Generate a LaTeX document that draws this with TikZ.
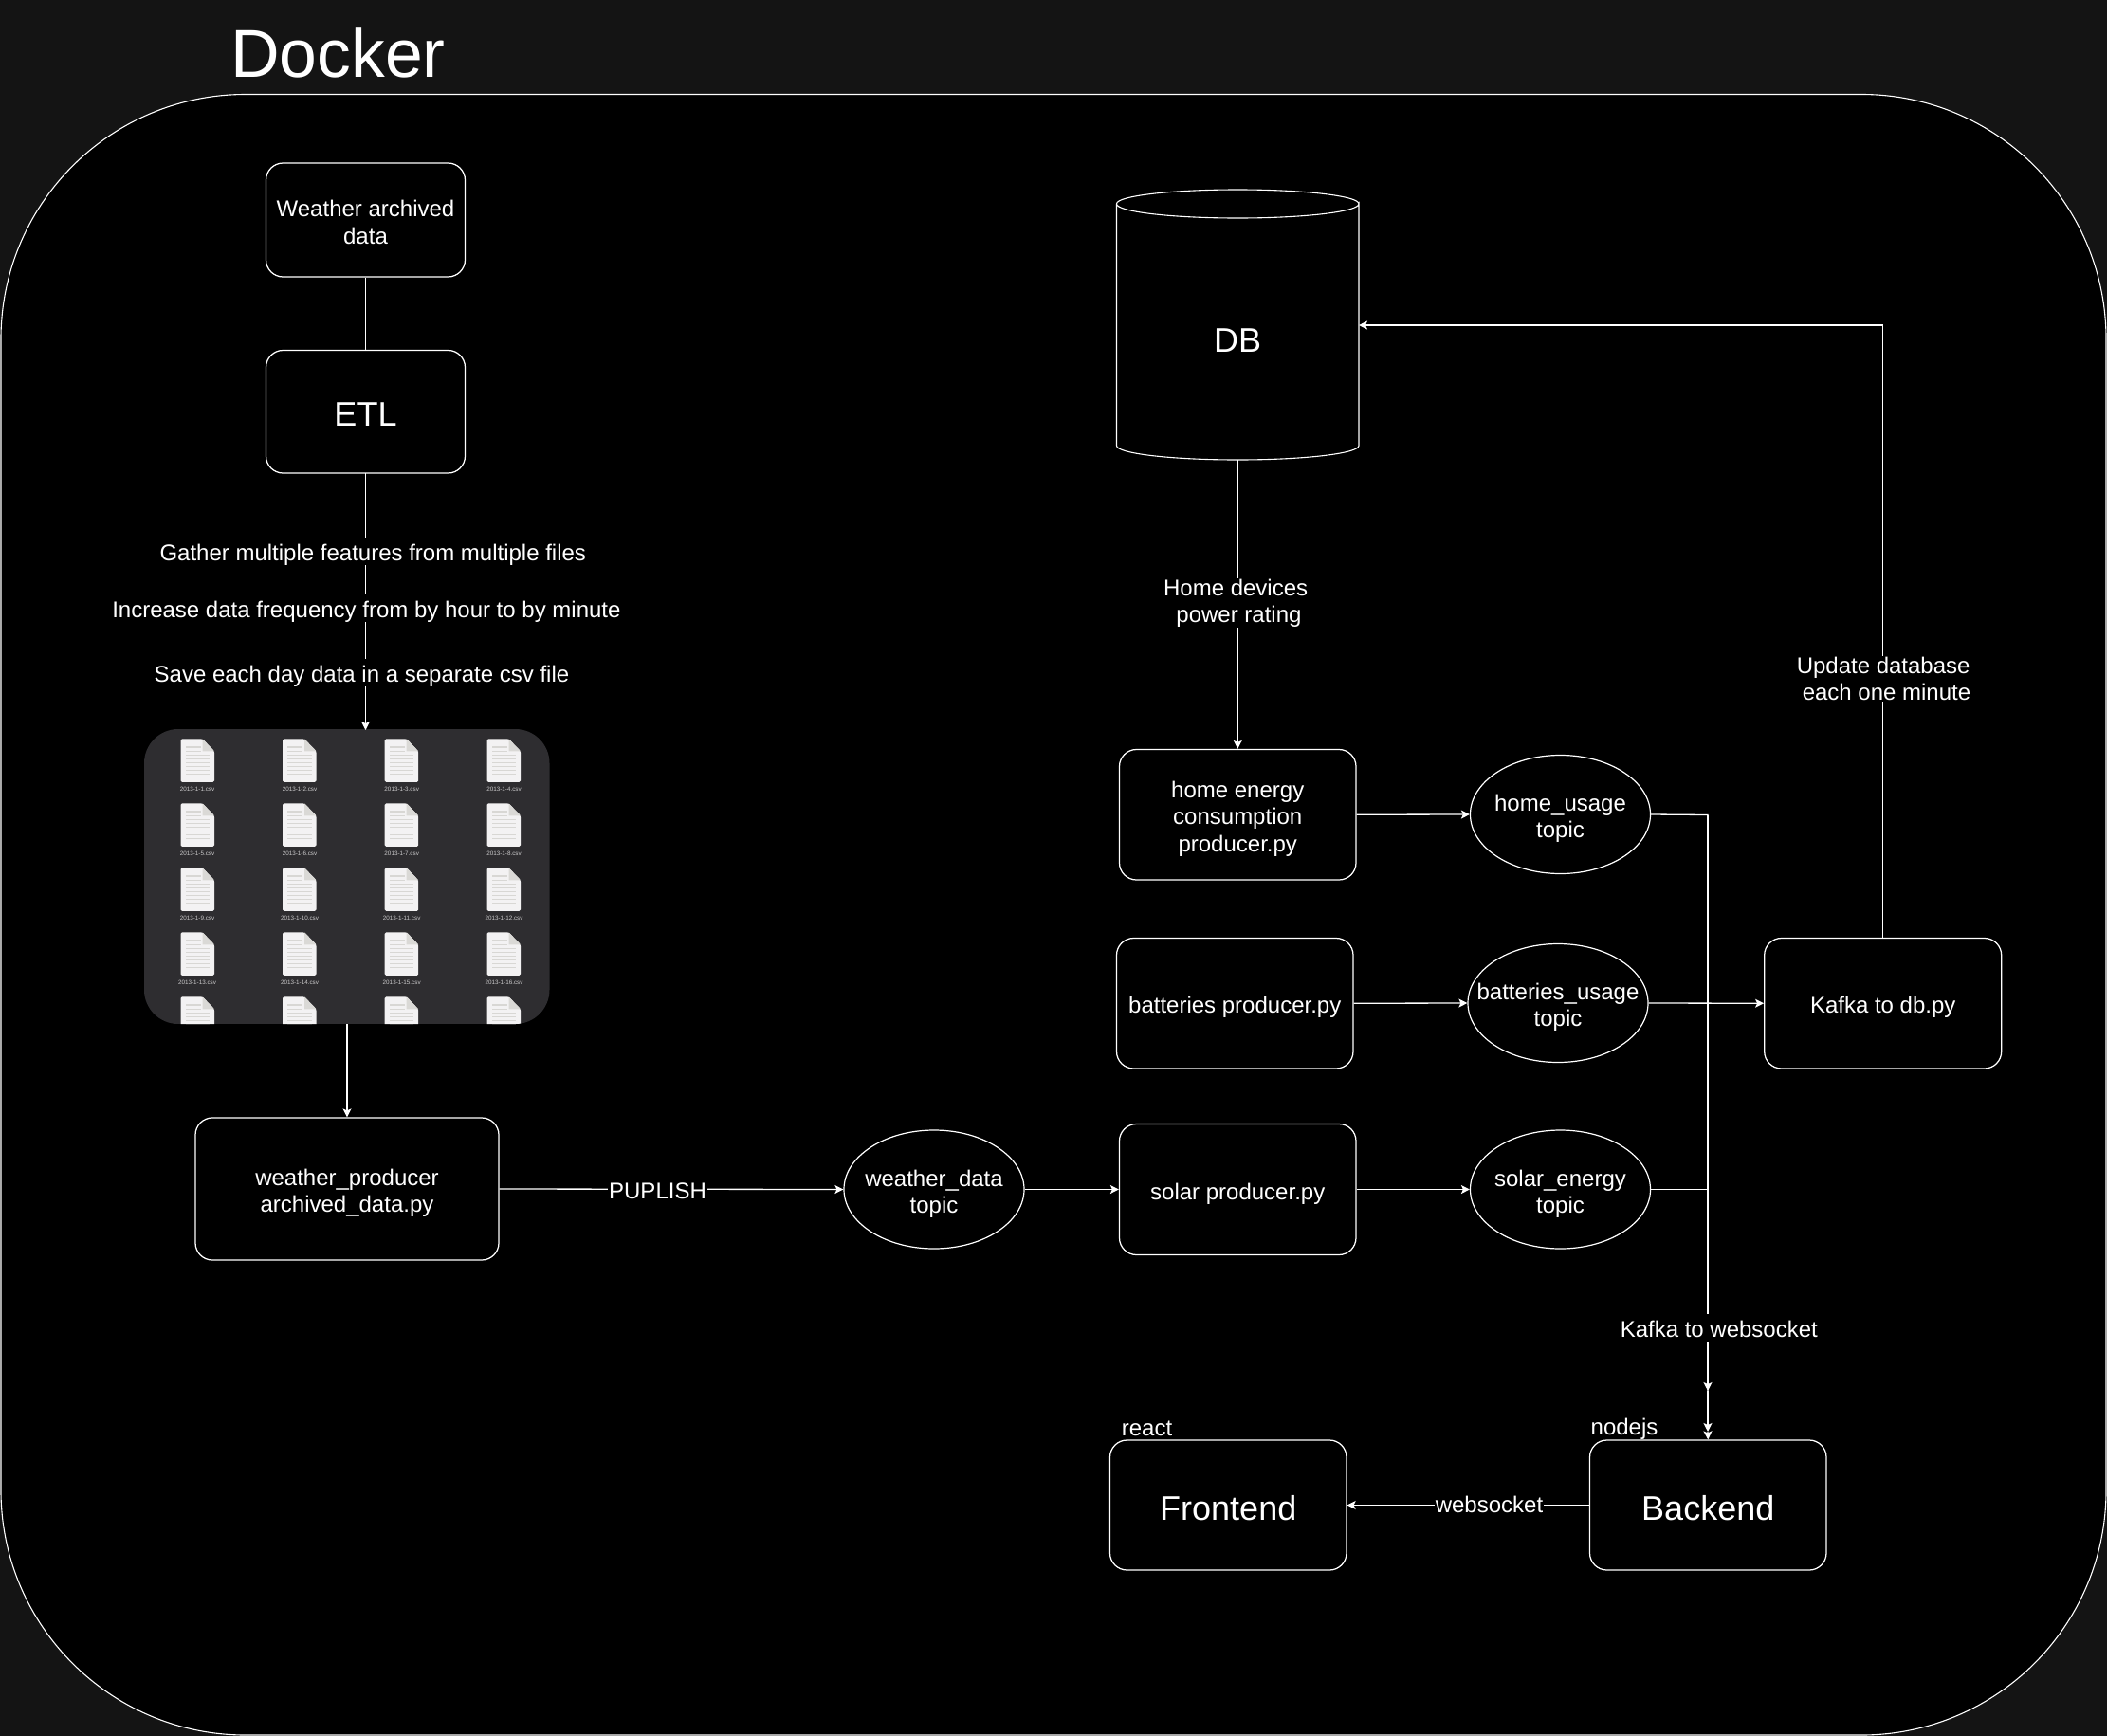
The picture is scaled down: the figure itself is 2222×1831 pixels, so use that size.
\documentclass[tikz,border=0pt]{standalone}
\usepackage{fontspec}
\setmainfont{Liberation Sans}
\usetikzlibrary{arrows.meta,shapes.geometric}
\definecolor{pagebg}{HTML}{141414}
\definecolor{panel}{HTML}{2E2D30}
\definecolor{docface}{HTML}{F3F2F3}
\definecolor{docfold}{HTML}{DAD9D6}
\definecolor{docline}{HTML}{D8D7D4}
\tikzset{
 x=1pt,y=-1pt,
 every node/.style={text=white,font=\fontsize{24}{28.3}\selectfont,align=center,inner sep=0pt},
 topic/.style={draw=white,fill=black,line width=1.2pt,ellipse,minimum width=190pt,minimum height=125pt},
 conn/.style={draw=white,line width=1.3pt},
 arr/.style={conn,-{Stealth[length=9pt,width=9pt,inset=2pt]}},
 lbl/.style={fill=black,inner xsep=1pt,inner ysep=1pt},
 freelbl/.style={fill=black,anchor=base,text height=24.7pt,text depth=4.3pt},
 big/.style={font=\fontsize{36}{42}\selectfont},
}
\newcommand{\rbox}[8]{\node[draw=white,fill=black,line width=1.25pt,rounded corners=18pt,minimum width={#3-#2},minimum height={#5-#4},label={[yshift=#8,#7]center:{#6}}] (#1) at ({(#2+#3)/2},{(#4+#5)/2}) {};}
\newcommand{\topicnode}[4]{\node[topic,label={[yshift=-4.5pt]center:{#4}}] (#1) at (#2,#3) {};}
\begin{document}
\begin{tikzpicture}
\useasboundingbox (0,0) rectangle (2222,1831);
\fill[pagebg] (0,0) rectangle (2222,1831);
\draw[draw=white,fill=black,line width=1.1pt,rounded corners=258pt] (1,99.5) rectangle (2221,1830);
\node[font=\fontsize{71.5}{80}\selectfont,anchor=base west] (title) at (243,81) {Docker};
% file panel
\begin{scope}
\path[clip,rounded corners=36pt] (152,769) rectangle (579.5,1080);
\fill[panel] (152,769) rectangle (579.5,1080);
\foreach \col/\cx in {0/190.5,1/298,2/405.7,3/513.5}{
 \foreach \row in {0,1,2,3,4}{
  \pgfmathsetmacro{\ty}{779.3+68*\row}
  \begin{scope}[shift={(\cx,\ty)}]
   \fill[docface,rounded corners=1.5pt] (0,0) -- (23,0) -- (35.5,13) -- (35.5,45.5) -- (0,45.5) -- cycle;
   \fill[docfold] (23,0) -- (35.5,13) -- (23,13) -- cycle;
   \fill[docline] (5,8) rectangle (21,9.3);
   \fill[docline] (5,12.3) rectangle (21,13.6);
   \foreach \ly in {16.5,20.5,24.5,28.5,32.5,36.5}{\fill[docline] (5,\ly) rectangle (30.5,\ly+1.4);}
  \end{scope}
 }
}
\foreach \col/\cx in {0/208,1/316,2/423.7,3/531.5}{
 \foreach \row in {0,1,2,3}{
  \pgfmathtruncatemacro{\n}{\row*4+\col+1}
  \pgfmathsetmacro{\ty}{832.5+68*\row}
  \node[text=white!75!panel,font=\fontsize{6.3}{7}\selectfont] (fn\n) at (\cx,\ty) {2013-1-\n.csv};
 }
}
\end{scope}
\coordinate (paneltop) at (385.5,770);
\coordinate (panelbot) at (366,1080);
% nodes
\rbox{wad}{280.5}{490.5}{172}{292}{Weather archived\\data}{}{-2.5pt}
\rbox{etl}{280.5}{490.5}{369.5}{499}{ETL}{big}{-2.5pt}
\rbox{wp}{206}{526}{1179}{1329}{weather\_producer\\archived\_data.py}{}{-4.5pt}
\rbox{home}{1180.5}{1430}{790.5}{928}{home energy\\consumption\\producer.py}{}{-4.5pt}
\rbox{bat}{1177.5}{1427}{989.5}{1127}{batteries producer.py}{}{-4.5pt}
\rbox{sol}{1180.5}{1430}{1185.5}{1323.5}{solar producer.py}{}{-4.5pt}
\rbox{kdb}{1860.7}{2110.7}{989.5}{1127}{Kafka to db.py}{}{-4.5pt}
\rbox{fe}{1170.5}{1420}{1519}{1656}{Frontend}{big}{-3.5pt}
\rbox{be}{1676.5}{1926}{1519}{1656}{Backend}{big}{-3.5pt}
\topicnode{hu}{1645.5}{859}{home\_usage\\topic}
\topicnode{bu}{1643}{1058}{batteries\_usage\\topic}
\topicnode{su}{1645.5}{1254.5}{solar\_energy\\topic}
\topicnode{wd}{985}{1254.5}{weather\_data\\topic}
% database
\draw[draw=white,fill=black,line width=1.1pt] (1177.5,215) -- (1177.5,470) arc[start angle=180,end angle=360,x radius=127.75,y radius=-15] -- (1433,215) arc[start angle=0,end angle=360,x radius=127.75,y radius=15];
\node[big] (dblabel) at (1305,359) {DB};
\coordinate (dbbot) at (1305.3,485);
\coordinate (dbright) at (1433,343);
% connectors
\draw[conn] (wad.south) -- (etl.north);
\coordinate (etlb) at (385.5,499);
\draw[arr] (etlb) -- (paneltop);
\draw[arr] (panelbot) -- (wp.north);
\draw[arr] (dbbot) -- (home.north);
\draw[arr] (kdb.north) -- (1985.7,343) -- (dbright);
\draw[arr] (wp.east) -- (wd.west);
\draw[arr] (wd.east) -- (sol.west);
\draw[arr] (home.east) -- (hu.west);
\draw[arr] (bat.east) -- (bu.west);
\draw[arr] (sol.east) -- (su.west);
\draw[arr] (bu.east) -- (kdb.west);
\coordinate (jh) at (1801,859.5);
\coordinate (js) at (1801,1254.5);
\coordinate (jm) at (1801,1467);
\coordinate (jn) at (1801,1510);
\draw[conn] (hu.east) -- (jh) -- (jm);
\draw[conn] (su.east) -- (js);
\draw[arr] (jh) -- (jm);
\draw[arr] (jm) -- (jn);
\draw[arr] (jn) -- (be.north);
\draw[arr] (be.west) -- (fe.east);
% labels
\node[freelbl] (l1) at (393.3,591.7) {Gather multiple features from multiple files};
\node[freelbl] (l2) at (386.4,651.7) {Increase data frequency from by hour to by minute};
\node[freelbl] (l3) at (381.5,719.3) {Save each day data in a separate csv file};
\node[lbl] (l4) at (1306.5,636) {Home devices\rule{6.7pt}{0pt}\\power rating};
\node[lbl] (l5) at (1989.5,716) {Update database\rule{6.7pt}{0pt}\\each one minute};
\node[lbl] (l6) at (693.5,1256) {PUPLISH};
\node[freelbl] (l7) at (1812.8,1410.7) {Kafka to websocket};
\node[lbl] (l8) at (1570.5,1586.5) {websocket};
\node (l9) at (1209.5,1507) {react};
\node (l10) at (1713,1507.5) {nodejs};
\end{tikzpicture}
\end{document}
